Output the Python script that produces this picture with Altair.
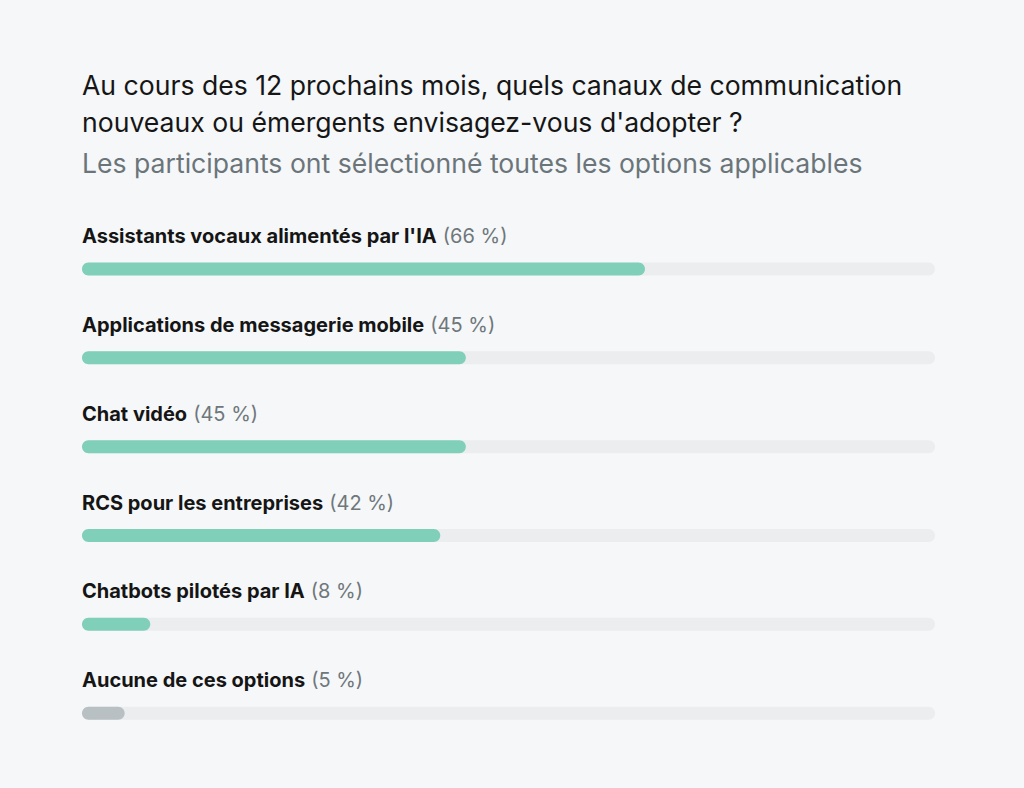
import subprocess
import altair as alt
import pandas as pd

categories = [
    "Assistants vocaux alimentés par l'IA",
    "Applications de messagerie mobile",
    "Chat vidéo",
    "RCS pour les entreprises",
    "Chatbots pilotés par IA",
    "Aucune de ces options",
]
values = [66, 45, 45, 42, 8, 5]
bar_colors = ["#80cfb9", "#80cfb9", "#80cfb9", "#80cfb9", "#80cfb9", "#b9c0c4"]

title_lines = [
    "Au cours des 12 prochains mois, quels canaux de communication",
    "nouveaux ou émergents envisagez-vous d'adopter ?",
]
subtitle = "Les participants ont sélectionné toutes les options applicables"

FONT = "Inter"
LABEL_SIZE = 20
PLOT_W = 853
BG = "#f5f7f9"


def text_width(text, family, style, size):
    try:
        from PIL import ImageFont
        path = subprocess.run(
            ["fc-match", "-f", "%{file}", f"{family}:style={style}"],
            capture_output=True, text=True, timeout=5,
        ).stdout.strip()
        f = ImageFont.truetype(path, size)
        return f.getlength(text)
    except Exception:
        return len(text) * size * 0.57


gap_px = 6
pct_x = [
    (text_width(c, FONT, "Bold", LABEL_SIZE) + gap_px) / PLOT_W * 100 for c in categories
]

df = pd.DataFrame({
    "cat": categories,
    "value": values,
    "color": bar_colors,
    "pct": [f"({v} %)" for v in values],
    "pct_x": pct_x,
    "zero": 0,
    "full": 100,
})

y = alt.Y("cat:N", sort=categories, axis=None,
          scale=alt.Scale(paddingInner=0, paddingOuter=0))
xscale = alt.Scale(domain=[0, 100], nice=False, zero=True)

base = alt.Chart(df)

track = base.mark_bar(size=13, cornerRadius=6.5, color="#ebedef", yOffset=14.6).encode(
    x=alt.X("zero:Q", scale=xscale, axis=None),
    x2="full:Q",
    y=y,
)
bars = base.mark_bar(size=13, cornerRadius=6.5, yOffset=14.6).encode(
    x=alt.X("zero:Q", scale=xscale, axis=None),
    x2="value:Q",
    y=y,
    color=alt.Color("color:N", scale=None),
)
labels = base.mark_text(
    align="left", baseline="middle", dy=-17.4, font=FONT, fontSize=LABEL_SIZE,
    fontWeight="bold", color="#151515",
).encode(
    x=alt.value(0),
    y=y,
    text="cat:N",
)
pcts = base.mark_text(
    align="left", baseline="middle", dy=-17.4, font=FONT, fontSize=LABEL_SIZE,
    fontWeight="normal", color="#6f777b",
).encode(
    x=alt.X("pct_x:Q", scale=xscale, axis=None),
    y=y,
    text="pct:N",
)

chart = alt.layer(track, bars, labels, pcts).properties(
    width=PLOT_W,
    height=533,
    padding={"left": 74, "top": 202, "right": 81, "bottom": 37},
    autosize=alt.AutoSizeParams(type="none"),
    background=BG,
    title=alt.Title(
        text=title_lines,
        subtitle=subtitle,
        anchor="start",
        frame="group",
        font=FONT,
        fontSize=26.6,
        fontWeight="normal",
        color="#161616",
        lineHeight=37,
        subtitleFont=FONT,
        subtitleFontSize=26.6,
        subtitleColor="#6b7579",
        subtitleLineHeight=37,
        subtitlePadding=15,
        offset=31,
    ),
).configure_view(stroke=None)

chart.save("out.html", embed_options={"renderer": "svg", "actions": False})

with open("out.html", encoding="utf-8") as fh:
    html = fh.read()
html = html.replace("<head>", f"<head><style>html,body{{background:{BG};}}</style>", 1)
with open("out.html", "w", encoding="utf-8") as fh:
    fh.write(html)
